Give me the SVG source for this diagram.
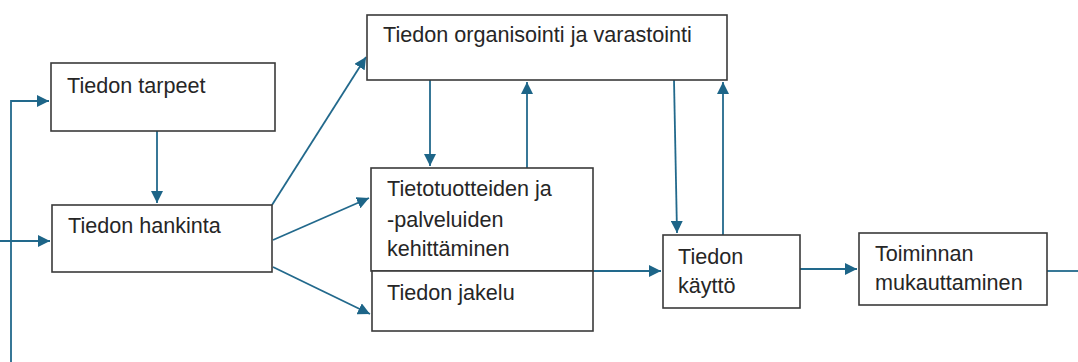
<svg xmlns="http://www.w3.org/2000/svg" width="1078" height="362" viewBox="0 0 1078 362">
<style>
.box{fill:#fff;stroke:#3a3a3a;stroke-width:1.6}
.lbl{font-family:"Liberation Sans",Arial,sans-serif;font-size:21.6px;fill:#262626}
.con{fill:none;stroke:#22698c;stroke-width:1.8}
</style>
<defs>
<marker id="ah" markerUnits="userSpaceOnUse" markerWidth="14" markerHeight="12" refX="12" refY="6" orient="auto">
<path d="M0,0 L12,6 L0,12 z" fill="#1d6588"/>
</marker>
</defs>
<rect width="1078" height="362" fill="#fff"/>
<g id="connectors">
<path class="con" d="M11,362 V101 H49" marker-end="url(#ah)"/>
<path class="con" d="M0,241 H50" marker-end="url(#ah)"/>
<path class="con" d="M157,131 V203" marker-end="url(#ah)"/>
<path class="con" d="M272,205 L366,57" marker-end="url(#ah)"/>
<path class="con" d="M273,240 L369,198" marker-end="url(#ah)"/>
<path class="con" d="M273,267 L370,314" marker-end="url(#ah)"/>
<path class="con" d="M430,80 V166" marker-end="url(#ah)"/>
<path class="con" d="M527,168 V82" marker-end="url(#ah)"/>
<path class="con" d="M674,80 L677,233" marker-end="url(#ah)"/>
<path class="con" d="M723,235 V82" marker-end="url(#ah)"/>
<path class="con" d="M593,271 H661" marker-end="url(#ah)"/>
<path class="con" d="M800,269 H857" marker-end="url(#ah)"/>
<path class="con" d="M1047,271 H1078"/>
</g>
<g id="tarpeet">
<rect class="box" x="51" y="63" width="224" height="68"/>
<text class="lbl" x="67" y="93">Tiedon tarpeet</text>
</g>
<g id="hankinta">
<rect class="box" x="52" y="205" width="220" height="67"/>
<text class="lbl" x="68" y="233">Tiedon hankinta</text>
</g>
<g id="organisointi">
<rect class="box" x="367" y="15" width="360" height="65"/>
<text class="lbl" x="383" y="42">Tiedon organisointi ja varastointi</text>
</g>
<g id="tietotuotteet">
<rect class="box" x="371" y="168" width="222" height="103"/>
<text class="lbl" x="387" y="196">Tietotuotteiden ja</text>
<text class="lbl" x="387" y="227">-palveluiden</text>
<text class="lbl" x="387" y="256">kehittäminen</text>
</g>
<g id="jakelu">
<rect class="box" x="372" y="271" width="221" height="60"/>
<text class="lbl" x="387" y="300">Tiedon jakelu</text>
</g>
<g id="kaytto">
<rect class="box" x="663" y="235" width="137" height="73"/>
<text class="lbl" x="678" y="264">Tiedon</text>
<text class="lbl" x="678" y="293">käyttö</text>
</g>
<g id="toiminnan">
<rect class="box" x="859" y="233" width="188" height="72"/>
<text class="lbl" x="875" y="261">Toiminnan</text>
<text class="lbl" x="875" y="290">mukauttaminen</text>
</g>
</svg>
